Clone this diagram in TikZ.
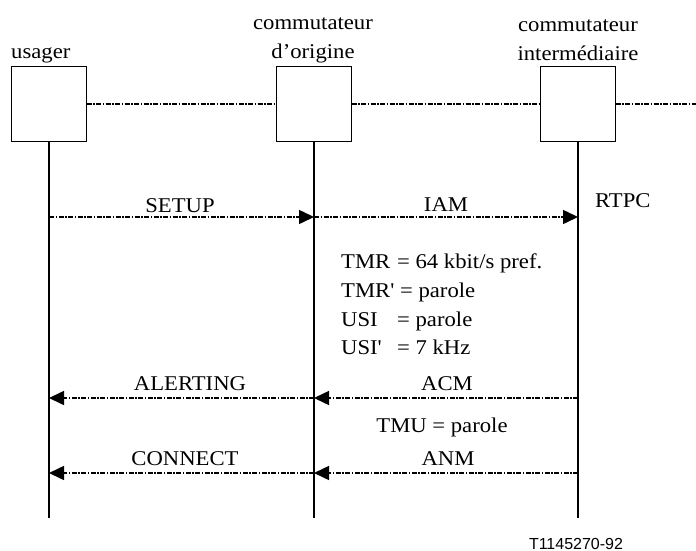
\documentclass[tikz,border=0pt]{standalone}
\usepackage{fontspec}
\setmainfont{Liberation Serif}[Ligatures=TeXOff,FakeStretch=1.08]
\newfontfamily\figsans{Liberation Sans}
\usetikzlibrary{arrows.meta}
\begin{document}
\begin{tikzpicture}[x=1pt,y=-1pt,
  box/.style={draw,line width=1pt,minimum width=75pt,minimum height=75pt,inner sep=0pt,outer sep=0pt},
  life/.style={line width=2pt},
  link/.style={line width=1.5pt,dash pattern=on 5pt off 1.5pt on 1.5pt off 1.5pt},
  msg/.style={link,-{Triangle[length=15pt,width=14pt]}},
  txt/.style={font=\fontsize{21}{25}\selectfont,inner sep=0pt,anchor=base},
  txtw/.style={txt,anchor=base west},
]
\useasboundingbox (0,0) rectangle (696,551);

% boxes
\node[box] (b1) at (49,104) {};
\node[box] (b2) at (314,104) {};
\node[box] (b3) at (578,104) {};
\coordinate (rend) at (696,104);

% links between boxes
\draw[link] (b1.east) -- (b2.west);
\draw[link] (b2.east) -- (b3.west);
\draw[link] (b3.east) -- (rend);

% lifeline ends
\coordinate (e1) at (49,518);
\coordinate (e2) at (314,518);
\coordinate (e3) at (578,518);
\draw[life] (b1.south) -- (e1);
\draw[life] (b2.south) -- (e2);
\draw[life] (b3.south) -- (e3);

% headers
\node[txtw] (h1) at (11,59) {usager};
\node[txt] (h2a) at (313,30) {commutateur};
\node[txt] (h2b) at (313,59) {d’origine};
\node[txt] (h3a) at (578,32) {commutateur};
\node[txt] (h3b) at (578,60) {intermédiaire};

% message points
\coordinate (p1a) at (49,217);
\coordinate (p2a) at (314,217);
\coordinate (p3a) at (578,217);
\coordinate (p1b) at (49,398);
\coordinate (p2b) at (314,398);
\coordinate (p3b) at (578,398);
\coordinate (p1c) at (49,473);
\coordinate (p2c) at (314,473);
\coordinate (p3c) at (578,473);

\draw[msg] (p1a) -- (p2a);
\draw[msg] (p2a) -- (p3a);
\draw[msg] (p3b) -- (p2b);
\draw[msg] (p2b) -- (p1b);
\draw[msg] (p3c) -- (p2c);
\draw[msg] (p2c) -- (p1c);

% message labels
\node[txt] (lsetup) at (180,212) {SETUP};
\node[txt] (liam) at (446,211) {IAM};
\node[txtw] (lrtpc) at (595,207) {RTPC};
\node[txt] (lalert) at (190,390) {ALERTING};
\node[txt] (lacm) at (447,390) {ACM};
\node[txt] (ltmu) at (442,432) {TMU = parole};
\node[txt] (lconn) at (185,465) {CONNECT};
\node[txt] (lanm) at (448,465) {ANM};

% parameter block
\node[txtw] (t1) at (341,268) {TMR};
\node[txtw] (t1v) at (397,268) {= 64 kbit/s pref.};
\node[txtw] (t2) at (341,297) {TMR' = parole};
\node[txtw] (t3) at (341,326) {USI};
\node[txtw] (t3v) at (397,326) {= parole};
\node[txtw] (t4) at (341,354) {USI'};
\node[txtw] (t4v) at (397,354) {= 7 kHz};

% figure reference
\node[inner sep=0pt,anchor=base,font=\figsans\fontsize{16}{19}\selectfont] (ref) at (576,549) {T1145270-92};
\end{tikzpicture}
\end{document}
